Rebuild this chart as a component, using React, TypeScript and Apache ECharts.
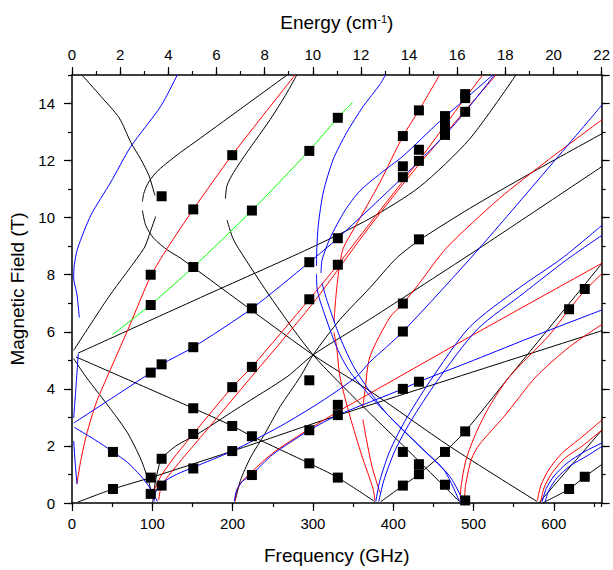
import React, { useEffect, useRef } from 'react';
import * as echarts from 'echarts';

const GHZ_PER_CM = 29.9792458;
const X_MAX = 22 * GHZ_PER_CM;
const FONT = 'Liberation Sans, Arial, sans-serif';

const xTicks = [0, 100, 200, 300, 400, 500, 600];
const energyTicks = [0, 2, 4, 6, 8, 10, 12, 14, 16, 18, 20, 22];
const fieldTicks = [0, 2, 4, 6, 8, 10, 12, 14];

type P = [number, number];

// measured points: [frequency GHz, field T]
const points: P[] = [
  [51, 1.79], [51, 0.49],
  [98, 8.0], [98, 6.94], [98, 4.57], [98, 0.89], [98, 0.32],
  [111.6, 10.75], [111.6, 4.86], [111.6, 1.55], [111.6, 0.61],
  [151, 10.29], [151, 8.27], [151, 5.46], [151, 3.32], [151, 2.42], [151, 1.21],
  [199.5, 12.19], [199.5, 4.06], [199.5, 2.7], [199.5, 1.82],
  [224, 10.25], [224, 6.82], [224, 4.77], [224, 2.34], [224, 0.98],
  [295.5, 12.34], [295.5, 8.44], [295.5, 7.14], [295.5, 4.3], [295.5, 2.55], [295.5, 1.39],
  [331, 13.5], [331, 9.28], [331, 8.35], [331, 3.44], [331, 3.08], [331, 0.89],
  [412, 12.86], [412, 11.8], [412, 11.42], [412, 6.99], [412, 6.01], [412, 4.0], [412, 1.79], [412, 0.61],
  [432, 13.76], [432, 12.38], [432, 11.99], [432, 9.24], [432, 4.25], [432, 1.36], [432, 1.01],
  [464.5, 13.56], [464.5, 13.24], [464.5, 12.9], [464.5, 1.79], [464.5, 0.64],
  [489.6, 14.33], [489.6, 14.19], [489.6, 13.71], [489.6, 2.51], [489.6, 0.09],
  [619, 6.79], [619, 0.49],
  [638.5, 7.5], [638.5, 0.92],
];

// black simulated transitions
const k1: P[] = [[12.4, 15.0], [36.0, 14.25], [58.7, 13.5], [73.4, 12.63], [85.6, 12.05], [95.9, 11.47], [102.1, 10.89], [103.3, 10.78]];
const k2: P[] = [[87.7, 10.56], [89.3, 10.84], [94.3, 11.19], [104.2, 11.57], [116.6, 11.88], [135.2, 12.29], [160, 12.79], [267.9, 15.0]];
const k3: P[] = [[87.7, 10.25], [91.8, 9.73], [101.7, 9.28], [119.1, 8.86], [135.2, 8.58], [300.2, 5.19], [372.3, 3.9], [470.1, 1.99], [579.2, 0.05]];
const k4: P[] = [[279.9, 15.0], [267.5, 14.37], [246.8, 13.44], [217.9, 12.29], [201.3, 11.59], [193.1, 11.13], [191.0, 10.67]];
const k5: P[] = [[193.1, 9.91], [200, 9.3], [207.1, 8.93], [250, 7.1], [300.2, 5.19], [360, 3.45], [420, 1.8], [482.5, 0.05]];
const k6: P[] = [[203.4, 0.09], [209.6, 0.78], [222, 1.58], [240.6, 2.45], [259.2, 3.38], [284.1, 4.42], [300.2, 5.19], [333.7, 6.43], [370.9, 7.54], [404, 8.58], [432, 9.2], [494.9, 10.32], [569.3, 11.53], [660.3, 12.95]];
const k7: P[] = [[100.5, 0.02], [103, 0.61], [106.7, 1.13], [111.6, 1.55], [129, 1.99], [160, 2.48], [209.6, 3.38], [267.6, 4.42], [300.2, 5.19], [370.9, 6.44], [507.3, 8.93], [660.3, 11.8]];
const kb: P[] = [[7.4, 5.25], [160, 7.2], [296.5, 8.93], [370.9, 9.97], [432.9, 11.08], [494.9, 12.75], [552.8, 15.0]];
const kc: P[] = [[2.1, 5.35], [45.9, 7.23], [89.7, 8.93], [96.8, 9.45], [104.2, 10.04]];
const kd: P[] = [[2.1, 5.06], [17.4, 4.42], [48.4, 3.28], [69.1, 2.46], [85.6, 1.54], [95.9, 0.72], [98.9, 0.26]];
const ke: P[] = [[7.1, 0.03], [51, 0.49], [98, 0.89], [199.7, 1.82], [331, 3.07], [660, 6.04]];
const kg: P[] = [[5, 5.12], [151, 3.32], [199.7, 2.7], [224, 2.34], [295.5, 1.39], [331, 0.89], [377, 0.05]];
const kh: P[] = [[384.5, 0.05], [412.2, 0.61], [432, 1.01], [463.9, 1.79], [489.6, 2.51], [544.5, 4.42], [660.3, 8.41]];
const kl: P[] = [[581.3, 0.0], [660.3, 2.57]];
const km: P[] = [[586, 0.0], [619, 0.49], [638.4, 0.92], [660.3, 1.36]];

// blue
const b1: P[] = [[131.1, 15.0], [110.4, 13.9], [73.2, 12.49], [48.4, 11.25], [23.6, 10.09], [7.1, 8.93], [2.9, 8.35], [2.1, 7.89], [6.2, 7.31], [9.1, 6.5]];
const b2: P[] = [[7.8, 5.23], [5.0, 4.08], [2.1, 2.98]];
const b2s: P[] = [[2.1, 2.17], [4, 1.4], [6.2, 0.66]];
const b3: P[] = [[2.1, 2.8], [98, 4.57], [111.6, 4.86], [151, 5.46], [224.1, 6.82], [295.6, 8.44], [331, 9.28], [412, 11.42], [464.5, 12.9], [489.6, 13.71], [526, 15.0]];
const b4: P[] = [[2.9, 2.65], [27.7, 2.23], [51.2, 1.79], [69.1, 1.42], [85.6, 0.95], [98, 0.49], [106.3, 0.05]];
const b5: P[] = [[304.5, 8.31], [304.8, 8.87], [306.7, 9.74], [313, 10.9], [325.4, 12.05], [342, 12.98], [362.6, 13.9], [383.3, 14.66], [390.4, 15.0]];
const b6: P[] = [[304.5, 8.03], [305.1, 7.54], [308.9, 7.08], [329.6, 5.46], [346.1, 4.6], [383.3, 3.38], [433, 1.99], [463.9, 1.13], [482.5, 0.05]];
const b7: P[] = [[102, 0.05], [104.5, 0.4], [112, 0.7], [130, 1.0], [151, 1.25], [199.5, 1.82], [260, 2.7], [310, 3.55], [354, 4.42], [370.9, 4.94], [412.2, 6.01], [507.3, 8.93], [660.3, 13.96]];
const b9a: P[] = [[378.3, 0.05], [383.3, 0.78], [395.7, 1.82], [414.3, 2.86], [445.3, 4.25], [494.9, 6.16], [556.9, 7.54], [610.3, 8.58], [660.3, 9.74]];
const b9b: P[] = [[382, 0.05], [388.2, 0.78], [401.9, 1.82], [421.7, 2.86], [454, 4.25], [504.8, 6.09], [563.1, 7.37], [615.2, 8.51], [660.3, 9.39]];
const b10: P[] = [[310.1, 8.06], [311.4, 8.52], [321.3, 9.28], [339.9, 10.25], [358.5, 10.94], [383.3, 11.53], [412.2, 12.16], [457.7, 13.37], [488.7, 14.13], [523.8, 15.0]];
const b10l: P[] = [[311.3, 7.72], [316.3, 7.2], [333.7, 5.81], [352.3, 4.7], [389.5, 3.21], [439.1, 1.82], [470.1, 0.95], [487.5, 0.05]];
const b12: P[] = [[202, 0.05], [205, 0.45], [212, 0.75], [224, 1.0], [250, 1.7], [295.5, 2.55], [331, 3.08], [412, 4.0], [432, 4.25], [500, 5.0], [580, 5.9], [660.3, 6.77]];
const b13a: P[] = [[585.5, 0.05], [590.4, 0.5], [600.4, 0.95], [616.5, 1.4], [637.6, 1.79], [660.3, 2.11]];
const b13b: P[] = [[589.2, 0.05], [594.2, 0.47], [604, 0.88], [620.2, 1.3], [641.3, 1.65], [660.3, 1.99]];

// red
const r1: P[] = [[6.2, 0.68], [11, 1.5], [18.6, 2.45], [30, 3.5], [43.8, 4.42], [70, 6.1], [98, 7.95], [118.7, 8.93], [151, 10.29], [199.3, 12.19], [277.8, 15.0]];
const r2: P[] = [[100, 0.15], [103, 0.5], [112, 1.0], [130, 1.7], [151, 2.42], [199.5, 4.06], [224, 4.77], [295.5, 7.14], [331, 8.35], [370.9, 9.8], [432, 12.0], [464.5, 13.24], [489.6, 14.19], [511.4, 15.0]];
const r3: P[] = [[108, 0.1], [111.6, 0.61], [130, 1.3], [160, 2.3], [209.6, 3.96], [300, 7.0], [370.9, 9.7], [432, 11.86], [528, 15.0]];
const r4: P[] = [[326.2, 6.33], [328.5, 7.2], [332.5, 8.2], [337.8, 8.93], [352.3, 9.67], [383.3, 11.23], [412.2, 12.86], [432, 13.76], [457.7, 15.0]];
const r4l: P[] = [[326.2, 5.98], [329.6, 5.46], [333.7, 4.42], [346.1, 3.04], [361, 1.65], [375, 0.49], [377.1, 0.09]];
const r5a: P[] = [[483.4, 0.09], [484.6, 0.61], [490.8, 1.53], [503.2, 2.46], [519.7, 3.38], [544.5, 4.42], [594.2, 5.88], [619, 6.79], [638.8, 7.45], [660.3, 8.05]];
const r5b: P[] = [[488.7, 0.05], [490, 0.61], [497.4, 1.54], [507.3, 2.05], [538.3, 3.04], [577.6, 4.42], [619, 5.46], [660.3, 6.27]];
const r6: P[] = [[362.2, 3.38], [364.7, 3.9], [370.9, 5.12], [395.7, 6.5], [412.2, 6.99], [433, 7.72], [466, 8.93], [532.1, 10.67], [594.2, 12.05], [660.3, 13.44]];
const r6l: P[] = [[362.2, 2.93], [365.9, 2.34], [373.4, 1.3], [383.3, 0.37]];
const r7: P[] = [[203, 0.05], [205, 0.4], [210, 0.7], [224, 1.1], [250, 1.75], [290, 2.5], [331, 3.2], [370.9, 3.84], [500, 5.9], [660.3, 8.41]];
const r8a: P[] = [[579.5, 0.09], [583.8, 0.61], [594.2, 1.19], [610.7, 1.76], [631.4, 2.23], [660.3, 2.92]];
const r8b: P[] = [[583.8, 0.05], [587.9, 0.54], [597.9, 1.06], [614, 1.58], [635.1, 1.99], [660.3, 2.57]];

// green
const g1: P[] = [[50.5, 5.9], [98, 6.95], [151, 8.27], [224, 10.25], [295, 12.34], [331, 13.5], [349.4, 14.04]];

const blackCurves = [k1, k2, k3, k4, k5, k6, k7, kb, kc, kd, ke, kg, kh, kl, km];
const redCurves = [r1, r2, r3, r4, r4l, r5a, r5b, r6, r6l, r7, r8a, r8b];
const blueCurves = [b1, b2, b2s, b3, b4, b5, b6, b7, b9a, b9b, b10, b10l, b12, b13a, b13b];
const greenCurves = [g1];

function curve(data: P[], color: string) {
  return {
    type: 'line',
    data,
    symbol: 'none',
    smooth: 0.25,
    lineStyle: { color, width: 1 },
    xAxisIndex: 0,
    yAxisIndex: 0,
    silent: true,
    z: 2,
  };
}

const axisText = { color: '#000', fontFamily: FONT, fontSize: 15 };
const lineStyle = { color: '#000', width: 1.5 };

export default function App() {
  const ref = useRef<HTMLDivElement>(null);
  useEffect(() => {
    if (!ref.current) return;
    const chart = echarts.init(ref.current, undefined, { renderer: 'svg' });
    const series: any[] = [];
    blackCurves.forEach((c) => series.push(curve(c, '#000000')));
    redCurves.forEach((c) => series.push(curve(c, '#ff0000')));
    blueCurves.forEach((c) => series.push(curve(c, '#0000ff')));
    greenCurves.forEach((c) => series.push(curve(c, '#00ff00')));
    series.push({
      type: 'scatter',
      data: points,
      symbol: 'rect',
      symbolSize: 10,
      itemStyle: { color: '#000', opacity: 1 },
      xAxisIndex: 0,
      yAxisIndex: 0,
      z: 5,
      silent: true,
    });
    chart.setOption({
      animation: false,
      backgroundColor: '#fff',
      grid: { left: 71, right: 10, top: 75, bottom: 62.5, containLabel: false },
      xAxis: [
        {
          type: 'value', position: 'bottom', min: 0, max: X_MAX, interval: 100,
          name: 'Frequency (GHz)', nameLocation: 'middle', nameGap: 43,
          nameTextStyle: { color: '#000', fontFamily: FONT, fontSize: 19 },
          axisLine: { onZero: false, lineStyle },
          axisTick: { length: 8, lineStyle: { width: 1.2 } },
          axisLabel: { ...axisText, margin: 13, showMaxLabel: false, formatter: (v: number) => (xTicks.includes(v) ? String(v) : '') },
          splitLine: { show: false },
        },
        {
          type: 'value', position: 'bottom', min: 0, max: X_MAX, interval: 50,
          axisLine: { show: false, onZero: false },
          axisTick: { length: 4, lineStyle: { color: '#000', width: 1.2 } },
          axisLabel: { show: false }, splitLine: { show: false },
        },
        {
          type: 'value', position: 'top', min: 0, max: 22, interval: 2,
          name: '{a|Energy (cm}{s|-1}{a|)}', nameLocation: 'middle', nameGap: 43,
          nameTextStyle: {
            rich: {
              a: { color: '#000', fontFamily: FONT, fontSize: 19 },
              s: { color: '#000', fontFamily: FONT, fontSize: 11, verticalAlign: 'top' },
            },
          },
          axisLine: { onZero: false, lineStyle },
          axisTick: { length: 8, lineStyle: { width: 1.2 } },
          axisLabel: { ...axisText, margin: 13, formatter: (v: number) => (energyTicks.includes(v) ? String(v) : '') },
          splitLine: { show: false },
        },
        {
          type: 'value', position: 'top', min: 0, max: 22, interval: 1,
          axisLine: { show: false, onZero: false },
          axisTick: { length: 4, lineStyle: { color: '#000', width: 1.2 } },
          axisLabel: { show: false }, splitLine: { show: false },
        },
      ],
      yAxis: [
        {
          type: 'value', position: 'left', min: 0, max: 15, interval: 2,
          name: 'Magnetic Field (T)', nameLocation: 'middle', nameGap: 45,
          nameTextStyle: { color: '#000', fontFamily: FONT, fontSize: 19 },
          axisLine: { onZero: false, lineStyle },
          axisTick: { length: 8, lineStyle: { width: 1.2 } },
          axisLabel: { ...axisText, margin: 17, showMaxLabel: false, formatter: (v: number) => (fieldTicks.includes(v) ? String(v) : '') },
          splitLine: { show: false },
        },
        {
          type: 'value', position: 'left', min: 0, max: 15, interval: 1,
          axisLine: { show: false, onZero: false },
          axisTick: { length: 4, lineStyle: { color: '#000', width: 1.2 } },
          axisLabel: { show: false }, splitLine: { show: false },
        },
        {
          type: 'value', position: 'right', min: 0, max: 15, interval: 2,
          axisLine: { onZero: false, lineStyle },
          axisTick: { length: 8, lineStyle: { width: 1.2 } },
          axisLabel: { show: false }, splitLine: { show: false },
        },
        {
          type: 'value', position: 'right', min: 0, max: 15, interval: 1,
          axisLine: { show: false, onZero: false },
          axisTick: { length: 4, lineStyle: { color: '#000', width: 1.2 } },
          axisLabel: { show: false }, splitLine: { show: false },
        },
      ],
      series,
    });
    return () => chart.dispose();
  }, []);
  return <div ref={ref} style={{ position: 'absolute', left: 0, top: 0, width: 613, height: 570 }} />;
}
